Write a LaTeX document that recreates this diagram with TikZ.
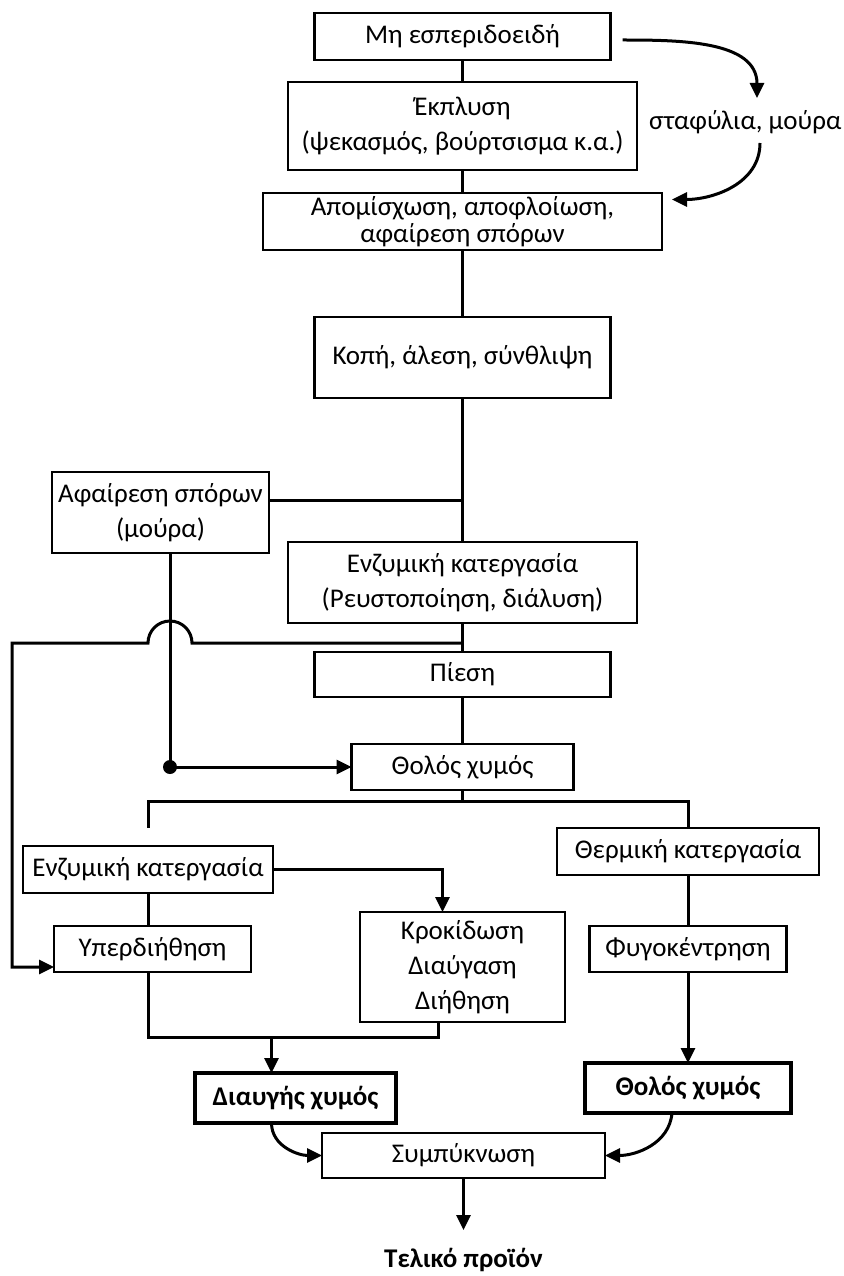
\documentclass[tikz,border=0pt]{standalone}
\usepackage{fontspec}
\setmainfont{Carlito}
\usetikzlibrary{arrows.meta, positioning, calc}

\begin{document}
\begin{tikzpicture}[
    node distance=30pt,
    box/.style={rectangle, draw, line width=2.2pt, outer sep=0pt, align=center, inner sep=2pt, font=\fontsize{27}{35}\selectfont},
    boldbox/.style={box, line width=3.6pt, font=\fontsize{27}{35}\selectfont\bfseries},
    line/.style={line width=3pt},
    arr/.style={line, -{Triangle[length=15pt, width=14pt]}},
]
    \useasboundingbox (0,0) rectangle (843pt,-1276pt);

    % main column
    \node[box, minimum width=296pt, minimum height=47pt] (mh) at (462.5pt,-36.5pt) {Μη εσπεριδοειδή};
    \node[box, minimum width=349pt, minimum height=88pt, below=22pt of mh] (ekp) {Έκπλυση\\(ψεκασμός, βούρτσισμα κ.α.)};
    \node[box, minimum width=399pt, minimum height=57pt, below=23pt of ekp, font=\fontsize{27}{27}\selectfont] (apo) {Απομίσχωση, αποφλοίωση,\\αφαίρεση σπόρων};
    \node[box, minimum width=296pt, minimum height=81pt, below=67pt of apo] (kopi) {Κοπή, άλεση, σύνθλιψη};
    \node[box, minimum width=349pt, minimum height=81pt, below=144pt of kopi] (enz) {Ενζυμική κατεργασία\\(Ρευστοποίηση, διάλυση)};
    \node[box, minimum width=296pt, minimum height=45pt, below=29pt of enz] (pies) {Πίεση};
    \node[box, minimum width=222pt, minimum height=46pt, below=47pt of pies] (tholos) {Θολός χυμός};

    % side branch
    \node[box, minimum width=217pt, minimum height=81pt, left=19pt of enz, yshift=70pt] (afair) {Αφαίρεση σπόρων\\(μούρα)};
    \node[right=10pt of ekp, yshift=4pt, inner sep=2pt, font=\fontsize{27}{35}\selectfont] (staf) {σταφύλια, μούρα};

    % lower branches
    \node[box, minimum width=250pt, minimum height=47pt, below=56pt of tholos, xshift=-314.5pt] (enzL) {Ενζυμική κατεργασία};
    \node[box, minimum width=197pt, minimum height=46pt, below=33pt of enzL, xshift=4.5pt] (yper) {Υπερδιήθηση};
    \node[box, minimum width=205pt, minimum height=110pt, below=122pt of tholos] (krok) {Κροκίδωση\\Διαύγαση\\Διήθηση};
    \node[box, minimum width=262pt, minimum height=47pt, below=38pt of tholos, xshift=225.5pt] (therm) {Θερμική κατεργασία};
    \node[box, minimum width=197pt, minimum height=46pt, below=51pt of therm] (fygo) {Φυγοκέντρηση};
    \node[boldbox, minimum width=201pt, minimum height=50pt, below=51pt of krok, xshift=-167pt] (diaf) {Διαυγής χυμός};
    \node[boldbox, minimum width=206pt, minimum height=50pt, below=91pt of fygo] (tholos2) {Θολός χυμός};
    \node[box, minimum width=283pt, minimum height=45pt, below=111pt of krok, xshift=1pt] (symp) {Συμπύκνωση};

    % coordinates
    \coordinate (c1) at (757pt,-98pt);
    \coordinate (c2) at (760pt,-143pt);
    \coordinate (j1) at (462.5pt,-500pt);
    \coordinate (j2) at (462.5pt,-643pt);
    \coordinate (dot) at (170pt,-767pt);
    \coordinate (rt) at (12pt,-967pt);
    \coordinate (sp) at ($(tholos.south)+(0,-11pt)$);
    \coordinate (mg) at ($(enzL.south |- yper.south)+(0,-65pt)$);
    \coordinate (te) at ($(symp.south)+(0,-52pt)$);

    \node[below=16pt of te, inner sep=2pt, font=\fontsize{27}{35}\selectfont\bfseries] (tel) {Τελικό προϊόν};

    % connectors
    \draw[line] (mh) -- (ekp);
    \draw[line] (ekp) -- (apo);
    \draw[line] (apo) -- (kopi);
    \draw[line] (kopi) -- (enz);
    \draw[line] (enz) -- (pies);
    \draw[line] (pies) -- (tholos);
    \draw[arr] ($(mh.east)+(12pt,-3.5pt)$) to[out=0, in=90] (c1);
    \draw[arr] (c2) to[out=-90, in=0] ($(apo.east)+(10pt,22pt)$);
    \draw[line] (afair.east |- j1) -- (j1);
    \draw[arr] (j2) -- ($(dot |- j2)+(22pt,0)$) arc[start angle=0, end angle=180, radius=22pt] -- (rt |- j2) -- (rt) -- (rt -| yper.west);
    \draw[line] (afair.south -| dot) -- (dot);
    \fill (dot) circle (7pt);
    \draw[arr] (dot) -- (tholos.west);
    \draw[line] (tholos.south) -- (sp) -| (therm.north);
    \draw[line] (sp) -| ($(enzL.north)+(0,18pt)$);
    \draw[arr] (enzL.east) -| ($(krok.north)+(-20pt,0)$);
    \draw[line] (enzL.south) -- (enzL.south |- yper.north);
    \draw[line] (therm) -- (fygo);
    \draw[line] (enzL.south |- yper.south) -- (mg) -| ($(krok.south)+(-24pt,0)$);
    \draw[arr] ($(mg -| diaf.north)+(-24pt,0)$) -- ($(diaf.north)+(-24pt,0)$);
    \draw[arr] (fygo) -- (tholos2);
    \draw[arr] ($(diaf.south)+(-24pt,0)$) to[out=-90, in=180] (symp.west);
    \draw[arr] ($(tholos2.south)+(-16pt,0)$) to[out=-95, in=0] (symp.east);
    \draw[arr] (symp.south) -- (te);
\end{tikzpicture}
\end{document}
